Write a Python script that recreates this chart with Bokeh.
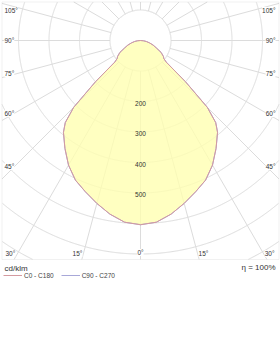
import numpy as np
from bokeh.plotting import figure
from bokeh.models import Range1d, Label, Legend, LegendItem, BoxAnnotation
from bokeh.embed import file_html
from bokeh.resources import INLINE

# ---------------- data ----------------
gamma = [0, 5, 10, 15, 20, 25, 30, 35, 40, 42.5, 45, 47.5, 50, 52.5, 55, 60, 65, 70, 75, 80, 85, 90, 180]
c0_c180 = [604, 598, 578, 553, 528, 505, 472, 432, 393, 365, 310, 200, 110, 96, 92, 78, 57, 44, 31, 20, 10, 0, 0]
c90_c270 = [604, 598, 578, 553, 528, 505, 472, 432, 393, 365, 310, 200, 110, 96, 92, 78, 57, 44, 31, 20, 10, 0, 0]
ring_values = [100, 200, 300, 400, 500, 600, 700, 800]
ring_labels = [200, 300, 400, 500]
angle_ticks = [0, 15, 30, 45, 60, 75, 90, 105]
unit_label = "cd/klm"
efficiency_label = "η = 100%"
series_names = ["C0 - C180", "C90 - C270"]

# ---------------- layout ----------------
W, H = 280, 352
CX, CY = 140.0, 40.0      # polar centre in pixels
S = 0.305                  # pixels per cd/klm
FONT = "Liberation Sans"

def X(px):
    return (px - CX) / S

def Y(py):
    return (CY - py) / S

L, R, T, B = X(1.5), X(278.5), Y(1.5), Y(259)

p = figure(width=W, height=H, x_range=Range1d(X(0), X(W)), y_range=Range1d(Y(H), Y(0)),
           output_backend="svg", toolbar_location=None, min_border=0,
           x_axis_type=None, y_axis_type=None, outline_line_color=None,
           background_fill_color="white", border_fill_color="white")
p.grid.visible = False

GRID = "#dcdcdc"

# rings (clipped to frame)
for r in ring_values:
    t = np.linspace(0, 2 * np.pi, 1441)
    xs = r * np.sin(t)
    ys = -r * np.cos(t)
    out = (xs < L) | (xs > R) | (ys > T) | (ys < B)
    xs = np.where(out, np.nan, xs)
    ys = np.where(out, np.nan, ys)
    p.line(xs, ys, line_color=GRID, line_width=1)

# radial lines every 15 degrees from r = 100 to the frame
for a in range(-165, 181, 15):
    th = np.radians(a)
    dx, dy = np.sin(th), -np.cos(th)
    ts = []
    if abs(dx) > 1e-9:
        ts.append((R if dx > 0 else L) / dx)
    if abs(dy) > 1e-9:
        ts.append((T if dy > 0 else B) / dy)
    tend = min(ts)
    r0 = ring_values[0]
    p.line([r0 * dx, tend * dx], [r0 * dy, tend * dy], line_color=GRID, line_width=1)

# frame
p.add_layout(BoxAnnotation(left=L, right=R, top=T, bottom=B, fill_alpha=0,
                           line_color="#cfcfcf", line_width=1))

# curves
g = np.radians(np.array(gamma, dtype=float))
def curve(vals):
    v = np.array(vals, dtype=float)
    ang = np.concatenate([-g[::-1], g[1:]])
    inten = np.concatenate([v[::-1], v[1:]])
    return inten * np.sin(ang), -inten * np.cos(ang)

fx, fy = curve(c0_c180)
p.patch(fx, fy, fill_color="#FFFFB0", fill_alpha=0.78, line_alpha=0)

bx, by = curve(c90_c270)
r_c90 = p.line(bx, by, line_color="#a8a8d8", line_width=1)
ax_, ay_ = curve(c0_c180)
r_c0 = p.line(ax_, ay_, line_color="#d49aa0", line_width=1)

# ring labels
for v in ring_labels:
    p.add_layout(Label(x=0, y=-v - 1.5 / S, text=str(v), text_font=FONT,
                       text_font_size="6.5px", text_color="#333333",
                       text_align="center", text_baseline="middle"))

# angle labels (pixel positions of the annotation)
ang_pos = {105: (4, 10), 90: (4, 40), 75: (4, 73), 60: (4, 113), 45: (4, 166),
           30: (5, 253), 15: (77, 253), 0: (140, 252)}
for a in angle_ticks:
    px, py = ang_pos[a]
    txt = f"{a}°"
    if a == 0:
        p.add_layout(Label(x=X(px), y=Y(py), text=txt, text_font=FONT, text_font_size="6.5px",
                           text_color="#333333", text_align="center", text_baseline="middle",
                           background_fill_color="white"))
        continue
    if a == 15:
        for xx in (px, 2 * CX - px):
            p.add_layout(Label(x=X(xx), y=Y(py), text=txt, text_font=FONT, text_font_size="6.5px",
                               text_color="#333333", text_align="center", text_baseline="middle",
                               background_fill_color="white"))
        continue
    p.add_layout(Label(x=X(px), y=Y(py), text=txt, text_font=FONT, text_font_size="6.5px",
                       text_color="#333333", text_align="left", text_baseline="middle",
                       background_fill_color="white"))
    p.add_layout(Label(x=X(W - px - 1), y=Y(py), text=txt, text_font=FONT, text_font_size="6.5px",
                       text_color="#333333", text_align="right", text_baseline="middle",
                       background_fill_color="white"))

# footer texts
p.add_layout(Label(x=X(4), y=Y(268), text=unit_label, text_font=FONT, text_font_size="8px",
                   text_color="#333333", text_align="left", text_baseline="middle"))
p.add_layout(Label(x=X(275), y=Y(267), text=efficiency_label, text_font=FONT, text_font_size="8px",
                   text_color="#333333", text_align="right", text_baseline="middle"))

legend = Legend(items=[LegendItem(label=series_names[0], renderers=[r_c0]),
                       LegendItem(label=series_names[1], renderers=[r_c90])],
                orientation="horizontal", location=(3, H - 275 - 4),
                glyph_width=19, glyph_height=8, label_height=8, label_standoff=2,
                spacing=7, padding=0, margin=0, border_line_alpha=0,
                background_fill_alpha=0, label_text_font=FONT,
                label_text_font_size="6.5px", label_text_color="#444444")
p.add_layout(legend)

open("out.html", "w").write(file_html(p, INLINE))
